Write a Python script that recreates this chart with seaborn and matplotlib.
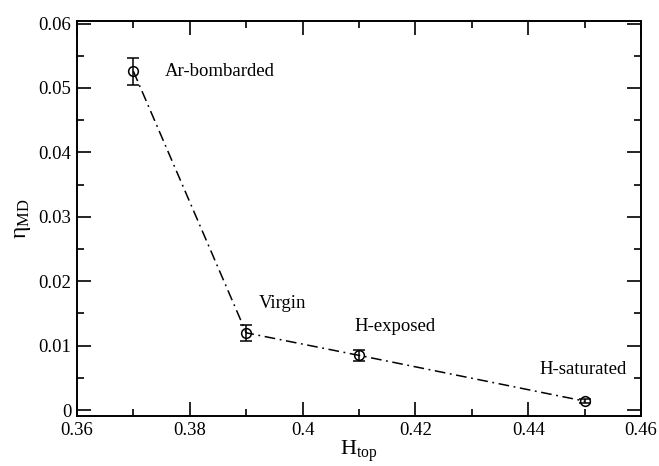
import matplotlib
matplotlib.use("Agg")
import matplotlib.pyplot as plt
import seaborn as sns
import pandas as pd
from matplotlib.ticker import MultipleLocator, FixedFormatter, FixedLocator

# Efficiency data per surface state
h_top = [0.37, 0.39, 0.41, 0.45]
eta_md = [0.0526, 0.0120, 0.0085, 0.0014]
eta_err = [0.0021, 0.0012, 0.0008, 0.0003]
states = ["Ar-bombarded", "Virgin", "H-exposed", "H-saturated"]
label_x = [0.3756, 0.3922, 0.4092, 0.4420]
label_y = [0.0525, 0.0166, 0.0130, 0.0063]

x_ticks = [0.36, 0.38, 0.40, 0.42, 0.44, 0.46]
x_tick_labels = ["0.36", "0.38", "0.4", "0.42", "0.44", "0.46"]
y_ticks = [0.0, 0.01, 0.02, 0.03, 0.04, 0.05, 0.06]
y_tick_labels = ["0", "0.01", "0.02", "0.03", "0.04", "0.05", "0.06"]

df = pd.DataFrame({"H_top": h_top, "eta": eta_md, "err": eta_err, "state": states})

sns.set_theme(style="ticks")
plt.rcParams["font.family"] = ["Liberation Serif", "DejaVu Serif"]
plt.rcParams["mathtext.fontset"] = "custom"
plt.rcParams["mathtext.rm"] = "Liberation Serif"
plt.rcParams["mathtext.it"] = "Liberation Serif"
plt.rcParams["text.color"] = "black"
plt.rcParams["axes.labelcolor"] = "black"

fig = plt.figure(figsize=(6.59, 4.66), dpi=100)
ax = fig.add_axes([0.1168, 0.107, 0.856, 0.848])

sns.lineplot(data=df, x="H_top", y="eta", ax=ax, color="black",
             linestyle=(0, (7, 3, 1.2, 3)), linewidth=1.1, marker=None)
ax.errorbar(df["H_top"], df["eta"], yerr=df["err"], fmt="o", mfc="none",
            mec="black", ecolor="black", ms=7, mew=1.1, elinewidth=1.1,
            capsize=4, capthick=1.1, zorder=3)

for s, lx, ly in zip(df["state"], label_x, label_y):
    ax.text(lx, ly, s, fontsize=13.5, va="center", ha="left", color="black")

ax.set_xlim(0.36, 0.46)
ax.set_ylim(-0.00093, 0.0604)
ax.xaxis.set_major_locator(FixedLocator(x_ticks))
ax.xaxis.set_major_formatter(FixedFormatter(x_tick_labels))
ax.yaxis.set_major_locator(FixedLocator(y_ticks))
ax.yaxis.set_major_formatter(FixedFormatter(y_tick_labels))
ax.xaxis.set_minor_locator(MultipleLocator(0.01))
ax.yaxis.set_minor_locator(MultipleLocator(0.005))

ax.tick_params(which="both", direction="in", top=True, right=True,
               width=1.2, colors="black", labelsize=13.5, pad=4)
ax.tick_params(which="major", length=10)
ax.tick_params(which="minor", length=5)
for sp in ax.spines.values():
    sp.set_linewidth(1.4)
    sp.set_color("black")

ax.set_xlabel(r"H$_{\mathrm{top}}$", fontsize=16, labelpad=0)
ax.set_ylabel(r"$\mathrm{\eta}_{\mathrm{MD}}$", fontsize=17, labelpad=4)

fig.savefig("out.png", dpi=100)
